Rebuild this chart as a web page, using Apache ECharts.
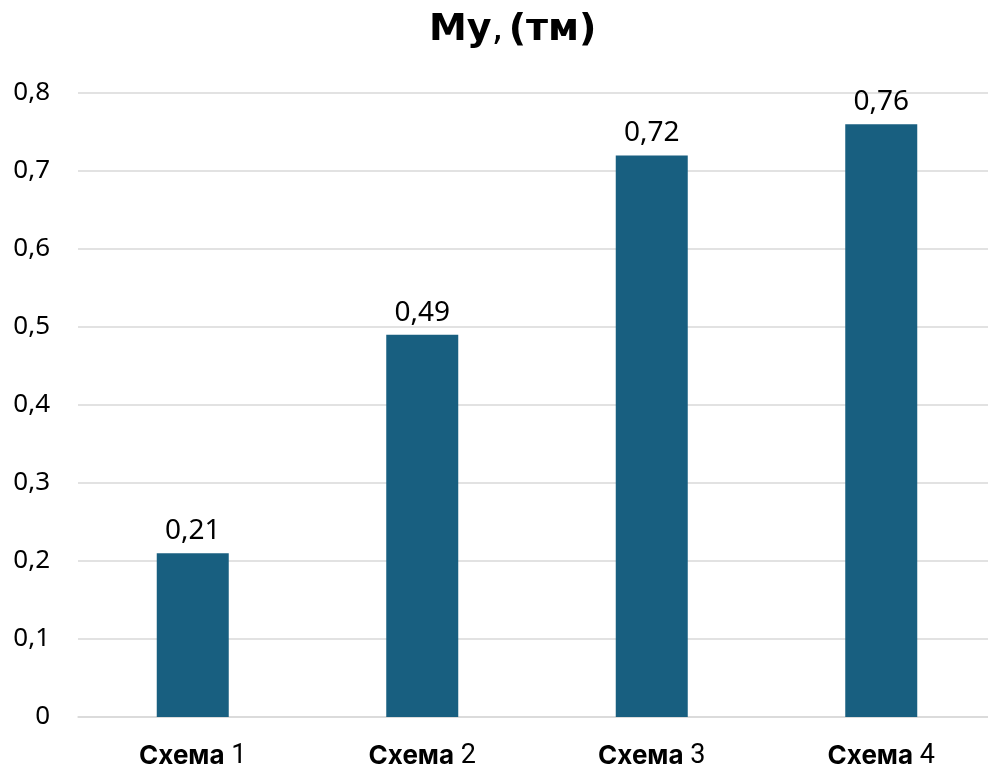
<!DOCTYPE html>
<html>
<head>
<meta charset="utf-8">
<script src="https://cdn.jsdelivr.net/npm/echarts@6/dist/echarts.min.js"></script>
<style>
  html, body { margin: 0; padding: 0; background: #fff; }
  #chart { width: 988px; height: 770px; }
</style>
</head>
<body>
<div id="chart"></div>
<script>
// данные
var categories = ['Схема 1', 'Схема 2', 'Схема 3', 'Схема 4'];
var values = [0.21, 0.49, 0.72, 0.76];
var yTicks = [0, 0.1, 0.2, 0.3, 0.4, 0.5, 0.6, 0.7, 0.8];

var chart = echarts.init(document.getElementById('chart'));

var fmt = function (v) { return String(v).replace('.', ','); };

var option = {
    animation: false,
    title: {
        text: '{b|Му}{n|,} {b|(тм)}',
        left: 424,
        top: 6,
        textStyle: {
            rich: {
                b: { fontFamily: 'DejaVu Sans', fontWeight: 'bold', fontSize: 38, color: '#000' },
                n: { fontFamily: 'DejaVu Sans', fontWeight: 'normal', fontSize: 38, color: '#000' }
            }
        }
    },
    grid: {
        left: 78,
        right: -8,
        top: 93,
        bottom: 53,
        outerBoundsMode: 'none'
    },
    xAxis: {
        type: 'category',
        data: categories,
        axisTick: { show: false },
        axisLine: { lineStyle: { color: '#d9d9d9', width: 1.5 } },
        axisLabel: {
            margin: 26,
            formatter: function (v) {
                var p = v.split(' ');
                return '{b|' + p[0] + '}  {n|' + p[1] + '}';
            },
            rich: {
                b: { fontFamily: 'Inter', fontWeight: 'bold', fontSize: 26, color: '#000' },
                n: { fontFamily: 'Roboto', fontWeight: 'normal', fontSize: 27, color: '#000' }
            }
        }
    },
    yAxis: {
        type: 'value',
        min: yTicks[0],
        max: yTicks[yTicks.length - 1],
        interval: 0.1,
        axisLine: { show: false },
        axisTick: { show: false },
        splitLine: { lineStyle: { color: '#d9d9d9', width: 1.5 } },
        axisLabel: {
            margin: 28,
            fontFamily: 'Noto Sans',
            fontSize: 26,
            color: '#000',
            formatter: function (v) { return fmt(Math.round(v * 10) / 10); }
        }
    },
    series: [
        {
            type: 'bar',
            data: values,
            barWidth: 72,
            itemStyle: { color: '#185f80' },
            label: {
                show: true,
                position: 'top',
                distance: 8,
                fontFamily: 'Noto Sans',
                fontSize: 28,
                color: '#000',
                formatter: function (p) { return fmt(p.value); }
            }
        }
    ]
};

chart.setOption(option);
</script>
</body>
</html>
